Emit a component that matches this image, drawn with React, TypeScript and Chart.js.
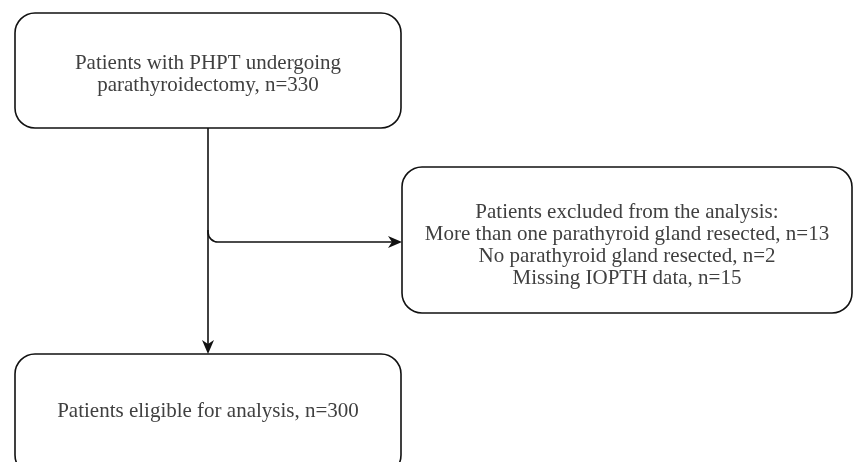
import React, { useEffect, useRef } from "react";
import { Chart, registerables } from "chart.js";

Chart.register(...registerables);

// Flowchart nodes (in chart units: x 0..854, y 0..462, y downward)
const nodeNames = ["screened", "excluded", "eligible"];
const nodeLeft = [15, 402, 15];
const nodeRight = [401, 852, 401];
const nodeTop = [13, 167, 354];
const nodeBottom = [128, 313, 475];
const nodeLines: string[][] = [
  ["Patients with PHPT undergoing", "parathyroidectomy, n=330"],
  [
    "Patients excluded from the analysis:",
    "More than one parathyroid gland resected, n=13",
    "No parathyroid gland resected, n=2",
    "Missing IOPTH data, n=15",
  ],
  ["Patients eligible for analysis, n=300"],
];
const nodeTextCenterY = [74, 245, 411];

// Connectors
const mainX = 208;
const branchY = 242;

const flowPlugin = {
  id: "flow",
  afterDraw(chart: any) {
    const { ctx, scales } = chart;
    const X = (v: number) => scales.x.getPixelForValue(v);
    const Y = (v: number) => scales.y.getPixelForValue(v);
    ctx.save();
    ctx.fillStyle = "#ffffff";
    ctx.fillRect(0, 0, chart.width, chart.height);
    ctx.strokeStyle = "#111111";
    ctx.lineWidth = 1.6;
    const r = 20;
    nodeNames.forEach((_, i) => {
      const x0 = X(nodeLeft[i]), x1 = X(nodeRight[i]);
      const y0 = Y(nodeTop[i]), y1 = Y(nodeBottom[i]);
      ctx.beginPath();
      ctx.roundRect(x0, y0, x1 - x0, y1 - y0, r);
      ctx.stroke();
      const lines = nodeLines[i];
      const lh = 22;
      ctx.fillStyle = "#404040";
      ctx.font = "21px 'Liberation Serif', 'Times New Roman', serif";
      ctx.textAlign = "center";
      ctx.textBaseline = "middle";
      const cx = (x0 + x1) / 2;
      const cy = Y(nodeTextCenterY[i]);
      lines.forEach((t, k) => {
        ctx.fillText(t, cx, cy + (k - (lines.length - 1) / 2) * lh);
      });
    });
    // main vertical line
    const mx = X(mainX);
    const yTop = Y(nodeBottom[0]);
    const yBot = Y(nodeTop[2]);
    ctx.beginPath();
    ctx.moveTo(mx, yTop);
    ctx.lineTo(mx, yBot - 10);
    ctx.stroke();
    // arrowhead down
    ctx.fillStyle = "#111111";
    ctx.beginPath();
    ctx.moveTo(mx, yBot);
    ctx.lineTo(mx - 6, yBot - 14);
    ctx.lineTo(mx, yBot - 10);
    ctx.lineTo(mx + 6, yBot - 14);
    ctx.closePath();
    ctx.fill();
    // branch
    const by = Y(branchY);
    const ax = X(nodeLeft[1]);
    ctx.beginPath();
    ctx.moveTo(mx, by - 12);
    ctx.arcTo(mx, by, mx + 12, by, 10);
    ctx.lineTo(ax - 8, by);
    ctx.stroke();
    ctx.beginPath();
    ctx.moveTo(ax, by);
    ctx.lineTo(ax - 14, by - 6);
    ctx.lineTo(ax - 10, by);
    ctx.lineTo(ax - 14, by + 6);
    ctx.closePath();
    ctx.fill();
    ctx.restore();
  },
};

export default function App() {
  const ref = useRef<HTMLCanvasElement>(null);
  useEffect(() => {
    document.body.style.margin = "0";
    const chart = new Chart(ref.current!, {
      type: "scatter",
      data: { datasets: [{ data: [], pointRadius: 0 }] },
      options: {
        animation: false,
        responsive: false,
        layout: { padding: 0 },
        plugins: { legend: { display: false }, tooltip: { enabled: false } },
        scales: {
          x: { type: "linear", min: 0, max: 854, display: false },
          y: { type: "linear", min: 0, max: 462, reverse: true, display: false },
        },
      },
      plugins: [flowPlugin],
    });
    return () => chart.destroy();
  }, []);
  return <canvas ref={ref} width={854} height={462} style={{ display: "block" }} />;
}
